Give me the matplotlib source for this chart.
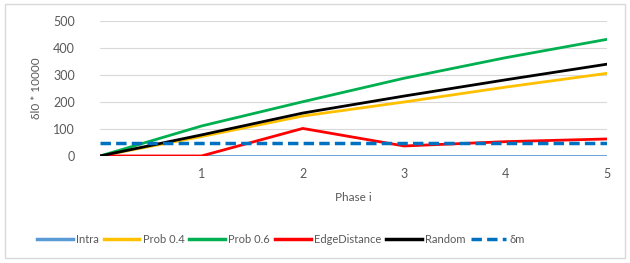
import matplotlib.pyplot as plt
from matplotlib.patches import Rectangle

phases = [0, 1, 2, 3, 4, 5]
intra = [0, 0, 0, 0, 0, 0]
prob04 = [0, 72, 148, 200, 255, 306]
prob06 = [0, 111, 201, 288, 364, 432]
edge_distance = [0, 0, 102, 37, 53, 63]
random_ = [0, 78, 159, 222, 282, 340]
delta_m = [48, 48, 48, 48, 48, 48]

plt.rcParams['font.family'] = ['Lato', 'DejaVu Sans']
grey = '#595959'

fig = plt.figure(figsize=(6.3, 2.63), dpi=100)
fig.patches.append(Rectangle((0.008, 0.02), 0.984, 0.965, transform=fig.transFigure,
                             fill=False, edgecolor='#d9d9d9', linewidth=1))
ax = fig.add_axes([0.159, 0.407, 0.804, 0.513])

ax.plot(phases, intra, color='#5B9BD5', lw=1.3, label='Intra')
ax.plot(phases, prob04, color='#FFC000', lw=2.0, label='Prob 0.4')
ax.plot(phases, prob06, color='#00B050', lw=2.0, label='Prob 0.6')
ax.plot(phases, edge_distance, color='#FF0000', lw=2.0, label='EdgeDistance')
ax.plot(phases, random_, color='#000000', lw=2.0, label='Random')
ax.plot(phases, delta_m, color='#0070C0', lw=2.5, ls=(0, (3, 1.5)), label='δm')

ax.set_xlim(0, 5)
ax.set_ylim(0, 500)
ax.set_yticks(range(0, 501, 100))
ax.set_xticks([1, 2, 3, 4, 5])
ax.grid(axis='y', color='#d9d9d9', lw=0.8)
ax.set_axisbelow(True)
for s in ax.spines.values():
    s.set_visible(False)
ax.tick_params(length=0, colors=grey, labelsize=9)
ax.tick_params(axis='x', pad=9)
ax.tick_params(axis='y', pad=18)
ax.set_xlabel('Phase i', color=grey, fontsize=8.5, labelpad=8)
ax.set_ylabel('δl0 * 10000', color=grey, fontsize=8.5, labelpad=8)

leg = ax.legend(loc='center', bbox_to_anchor=(0.357, -0.62), ncol=6, frameon=False,
                fontsize=8, labelcolor=grey, handlelength=3.2, handletextpad=0.3,
                columnspacing=0.45)
for h in leg.get_lines():
    h.set_linewidth(2.5)

fig.savefig('out.png')
